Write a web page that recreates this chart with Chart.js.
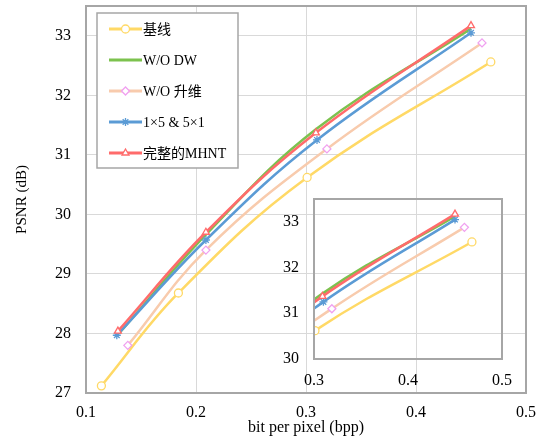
<!DOCTYPE html>
<html>
<head>
<meta charset="utf-8">
<script src="https://cdn.jsdelivr.net/npm/chart.js"></script>
<style>
  body { margin: 0; background: #fff; }
  #wrap { position: relative; width: 544px; height: 447px; }
  #main { position: absolute; left: 0; top: 0; }
  #inset { position: absolute; left: 262px; top: 188px; }
</style>
</head>
<body>
<div id="wrap">
  <canvas id="main" width="544" height="447"></canvas>
  <canvas id="inset" width="262" height="210"></canvas>
</div>
<script>
// series names (legend order)
const NOMES = ['基线', 'W/O DW', 'W/O 升维', '1×5 & 5×1', '完整的MHNT']

// bpp values
const baseX = [0.114, 0.184, 0.301, 0.468]
const semDwX = [0.130, 0.209, 0.309, 0.450]
const semUpX = [0.138, 0.209, 0.319, 0.460]
const convX = [0.128, 0.209, 0.310, 0.450]
const fullX = [0.129, 0.209, 0.309, 0.450]

// PSNR values
const baseY = [27.12, 28.68, 30.62, 32.56]
const semDwY = [28.00, 29.66, 31.43, 33.12]
const semUpY = [27.80, 29.40, 31.10, 32.88]
const convY = [27.97, 29.57, 31.25, 33.05]
const fullY = [28.04, 29.70, 31.37, 33.17]

// tick labels
const ticksX = [0.1, 0.2, 0.3, 0.4, 0.5]
const ticksY = [27, 28, 29, 30, 31, 32, 33]
const insetTicksX = [0.3, 0.4, 0.5]
const insetTicksY = [30, 31, 32, 33]

const SERIF = '"Liberation Serif", "Times New Roman", "Noto Sans CJK SC", serif'
const CINZA = '#a6a6a6'
const GRADE = '#d9d9d9'

const ESTILOS = [
    { cor: '#ffd966', marca: 'circle', corMarca: '#ffd966' },
    { cor: '#7cc24e', marca: false, corMarca: '#7cc24e' },
    { cor: '#f8cbad', marca: 'rectRot', corMarca: '#f0a0f0' },
    { cor: '#5b9bd5', marca: 'star', corMarca: '#5b9bd5' },
    { cor: '#ff6b6b', marca: 'triangle', corMarca: '#ff6b6b' }
]

function pontos(xs, ys) {
    return xs.map((x, i) => ({ x: x, y: ys[i] }))
}

function criaDatasets() {
    const series = [[baseX, baseY], [semDwX, semDwY], [semUpX, semUpY], [convX, convY], [fullX, fullY]]
    return series.map((s, i) => {
        let e = ESTILOS[i]
        return {
            label: NOMES[i],
            data: pontos(s[0], s[1]),
            showLine: true,
            tension: 0.4,
            borderColor: e.cor,
            borderWidth: 2.5,
            pointStyle: e.marca || 'circle',
            pointRadius: e.marca ? 4 : 0,
            pointBorderColor: e.corMarca,
            pointBackgroundColor: '#ffffff',
            pointBorderWidth: 1.3,
            order: 5 - i
        }
    })
}

// gray frame round the plot area
const moldura = {
    id: 'moldura',
    afterDraw(chart) {
        const a = chart.chartArea
        const ctx = chart.ctx
        ctx.save()
        ctx.strokeStyle = CINZA
        ctx.lineWidth = 2
        ctx.strokeRect(a.left, a.top, a.right - a.left, a.bottom - a.top)
        ctx.restore()
    }
}

function marca(ctx, estilo, x, y) {
    if (!estilo.marca) return
    ctx.fillStyle = '#ffffff'
    ctx.strokeStyle = estilo.corMarca
    ctx.lineWidth = 1.3
    if (Chart.helpers && Chart.helpers.drawPoint) {
        Chart.helpers.drawPoint(ctx, { pointStyle: estilo.marca, radius: 4, borderWidth: 1.3, rotation: 0 }, x, y)
    } else {
        ctx.beginPath()
        ctx.arc(x, y, 4, 0, Math.PI * 2)
        ctx.fill()
        ctx.stroke()
    }
}

// legend box inside the plot, top left
const legenda = {
    id: 'legenda',
    afterDraw(chart) {
        const a = chart.chartArea
        const ctx = chart.ctx
        const bx = a.left + 11, by = a.top + 7
        ctx.save()
        ctx.fillStyle = '#ffffff'
        ctx.fillRect(bx, by, 141, 155)
        ctx.strokeStyle = CINZA
        ctx.lineWidth = 1.5
        ctx.strokeRect(bx, by, 141, 155)
        NOMES.forEach((nome, i) => {
            let e = ESTILOS[i]
            let y = by + 16 + i * 31
            ctx.strokeStyle = e.cor
            ctx.lineWidth = 3
            ctx.beginPath()
            ctx.moveTo(bx + 12, y)
            ctx.lineTo(bx + 45, y)
            ctx.stroke()
            marca(ctx, e, bx + 28.5, y)
            ctx.fillStyle = '#000000'
            ctx.font = '14px ' + SERIF
            ctx.textBaseline = 'middle'
            ctx.textAlign = 'left'
            ctx.fillText(nome, bx + 46, y + 1)
        })
        ctx.restore()
    }
}

function soTicks(lista) {
    return function (scale) {
        scale.ticks = lista.map(v => ({ value: v }))
    }
}

// fixed axis sizes, no label overflow padding
function fixaX(h) {
    return function (s) {
        s.height = h
        s.paddingLeft = 0
        s.paddingRight = 0
    }
}
function fixaY(w) {
    return function (s) {
        s.width = w
        s.paddingTop = 0
        s.paddingBottom = 0
    }
}

var ctx = document.getElementById('main').getContext('2d')
var chartMain = new Chart(ctx, {
    type: 'scatter',
    data: { datasets: criaDatasets() },
    options: {
        responsive: false,
        animation: false,
        devicePixelRatio: 1,
        layout: { padding: { top: 6, right: 18, left: 0, bottom: 0 } },
        plugins: { legend: { display: false }, tooltip: { enabled: false } },
        scales: {
            x: {
                type: 'linear',
                min: 0.1,
                max: 0.5,
                afterBuildTicks: soTicks(ticksX),
                afterFit: fixaX(54),
                grid: { color: GRADE, drawTicks: false },
                border: { display: false },
                ticks: {
                    padding: 10,
                    color: '#000',
                    font: { family: SERIF, size: 16 },
                    callback: v => v.toFixed(1)
                },
                title: {
                    display: true,
                    text: 'bit per pixel (bpp)',
                    color: '#000',
                    font: { family: SERIF, size: 16 },
                    padding: { top: 10, bottom: 10 }
                }
            },
            y: {
                type: 'linear',
                min: 27,
                max: 33.5,
                afterBuildTicks: soTicks(ticksY),
                afterFit: fixaY(86),
                grid: { color: GRADE, drawTicks: false },
                border: { display: false },
                ticks: {
                    padding: 15,
                    color: '#000',
                    font: { family: SERIF, size: 16 }
                },
                title: {
                    display: true,
                    text: 'PSNR (dB)',
                    color: '#000',
                    font: { family: SERIF, size: 15 },
                    padding: { top: 13, bottom: 13 }
                }
            }
        }
    },
    plugins: [moldura, legenda]
})

var ctx2 = document.getElementById('inset').getContext('2d')
var chartInset = new Chart(ctx2, {
    type: 'scatter',
    data: { datasets: criaDatasets() },
    options: {
        responsive: false,
        animation: false,
        devicePixelRatio: 1,
        layout: { padding: { top: 11, right: 22, left: 0, bottom: 0 } },
        plugins: { legend: { display: false }, tooltip: { enabled: false } },
        scales: {
            x: {
                type: 'linear',
                min: 0.3,
                max: 0.5,
                afterBuildTicks: soTicks(insetTicksX),
                afterFit: fixaX(39),
                grid: { display: false, drawTicks: false },
                border: { display: false },
                ticks: {
                    padding: 12,
                    color: '#000',
                    font: { family: SERIF, size: 16 },
                    callback: v => v.toFixed(1)
                }
            },
            y: {
                type: 'linear',
                min: 30,
                max: 33.5,
                afterBuildTicks: soTicks(insetTicksY),
                afterFit: fixaY(52),
                grid: { display: false, drawTicks: false },
                border: { display: false },
                ticks: {
                    padding: 15,
                    color: '#000',
                    font: { family: SERIF, size: 16 }
                }
            }
        }
    },
    plugins: [moldura]
})
</script>
</body>
</html>
